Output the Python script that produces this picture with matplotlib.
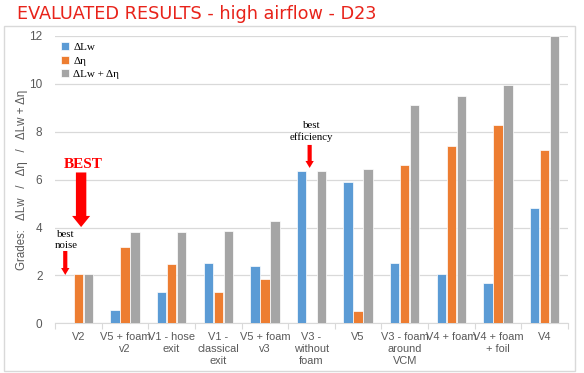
import numpy as np
import matplotlib.pyplot as plt
from matplotlib.patches import Rectangle

# Values
categories = ['V2', 'V5 + foam\nv2', 'V1 - hose\nexit', 'V1 -\nclassical\nexit',
              'V5 + foam\nv3', 'V3 -\nwithout\nfoam', 'V5', 'V3 - foam\naround\nVCM',
              'V4 + foam', 'V4 + foam\n+ foil', 'V4']
d_lw = [0.0, 0.55, 1.32, 2.53, 2.41, 6.37, 5.89, 2.52, 2.07, 1.68, 4.82]
d_eta = [2.06, 3.2, 2.48, 1.3, 1.85, 0.0, 0.53, 6.6, 7.4, 8.27, 7.23]
d_sum = [2.06, 3.8, 3.8, 3.87, 4.27, 6.37, 6.43, 9.1, 9.49, 9.97, 12.0]
series_names = ['ΔLw', 'Δη', 'ΔLw + Δη']
y_ticks = [0, 2, 4, 6, 8, 10, 12]

colors = ['#5B9BD5', '#ED7D31', '#A5A5A5']
tick_gray = '#595959'
sans = 'Liberation Sans'
serif = 'Liberation Serif'

fig = plt.figure(figsize=(5.84, 3.73), dpi=100)

# chart frame
fig.patches.append(Rectangle((4 / 584, 1 - 371 / 373), 571 / 584, 345 / 373,
                             transform=fig.transFigure, fill=False,
                             edgecolor='#D9D9D9', linewidth=1.0))

fig.text(17 / 584, 1 - 14 / 373, 'EVALUATED RESULTS - high airflow - D23',
         color='#E8231A', fontsize=12.7, family='DejaVu Sans', va='center', ha='left')

ax = fig.add_axes([55 / 584, 1 - 323.3 / 373, 513 / 584, 287.3 / 373])

x = np.arange(len(categories))
w = 0.2
for i, (vals, name) in enumerate(zip([d_lw, d_eta, d_sum], series_names)):
    ax.bar(x + (i - 1) * 0.214, vals, width=w, color=colors[i], label=name,
           edgecolor='white', linewidth=0.5, zorder=3)

ax.set_xlim(-0.5, len(categories) - 0.5)
ax.set_ylim(0, 12)
ax.set_yticks(y_ticks)
ax.yaxis.grid(True, color='#D9D9D9', linewidth=0.9, zorder=0)
for s in ['top', 'right', 'left']:
    ax.spines[s].set_visible(False)
ax.spines['bottom'].set_color('#D9D9D9')
ax.tick_params(axis='y', length=0, labelsize=8.5, labelcolor=tick_gray, pad=9)
for t in ax.get_yticklabels():
    t.set_family(sans)

# category labels between boundary ticks
ax.set_xticks(np.arange(len(categories) + 1) - 0.5)
ax.set_xticklabels([])
ax.tick_params(axis='x', length=4, color='#D9D9D9')
ax.set_xticks(x, minor=True)
ax.set_xticklabels(categories, minor=True, fontsize=7.9, color=tick_gray,
                   linespacing=1.2, family=sans)
ax.tick_params(axis='x', which='minor', length=0, pad=6.5)

ax.set_ylabel('Grades:   ΔLw   /   Δη   /   ΔLw + Δη', fontsize=8.3, color=tick_gray,
              family=sans)
ax.yaxis.set_label_coords(-0.052, 0.5)

leg = ax.legend(loc='upper left', bbox_to_anchor=(0.0, 1.0), frameon=False,
                prop={'family': serif, 'size': 8}, handlelength=0.7,
                handleheight=0.7, handletextpad=0.4, labelspacing=0.35,
                borderaxespad=0.15)

# annotations
ax.text(0.1, 6.65, 'BEST', color='red', fontsize=11, fontweight='bold',
        family=serif, ha='center', va='center')
ax.annotate('', xy=(0.06, 4.02), xytext=(0.06, 6.3),
            arrowprops=dict(arrowstyle='simple,head_width=1.3,head_length=0.8,tail_width=0.75',
                            color='red', lw=0, shrinkA=0, shrinkB=0), zorder=5)
ax.text(-0.27, 3.47, 'best\nnoise', fontsize=7.8, family=serif, ha='center',
        va='center', linespacing=1.3)
ax.annotate('', xy=(-0.28, 2.02), xytext=(-0.28, 3.02),
            arrowprops=dict(arrowstyle='simple,head_width=0.6,head_length=0.5,tail_width=0.3',
                            color='red', lw=0, shrinkA=0, shrinkB=0), zorder=5)
ax.text(5.0, 8.0, 'best\nefficiency', fontsize=7.8, family=serif, ha='center',
        va='center', linespacing=1.3)
ax.annotate('', xy=(4.96, 6.49), xytext=(4.96, 7.45),
            arrowprops=dict(arrowstyle='simple,head_width=0.6,head_length=0.5,tail_width=0.3',
                            color='red', lw=0, shrinkA=0, shrinkB=0), zorder=5)

fig.savefig('out.png', dpi=100)
